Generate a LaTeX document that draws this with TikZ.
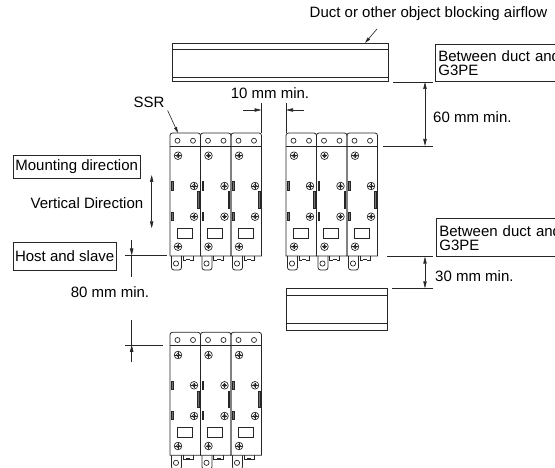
\documentclass[tikz,border=0pt]{standalone}
\usepackage{fontspec}
\setmainfont{Liberation Sans}
\usetikzlibrary{arrows.meta}
\tikzset{
  modline/.style={draw=black!85, line width=0.8pt},
  ductline/.style={draw=black!85, line width=0.9pt},
  extline/.style={draw=black!85, line width=0.6pt},
  tipA/.tip={Triangle[length=7pt,width=3.4pt]},
  dimone/.style={extline, -tipA},
  dimtwo/.style={extline, tipA-tipA},
  lbl/.style={font=\fontsize{15}{14}\selectfont, inner sep=0pt},
  lblbox/.style={draw=black!85, line width=0.7pt, font=\fontsize{15}{14}\selectfont, inner sep=3pt, align=left},
}
\newcommand{\ssrscrew}[2]{%
  \draw[modline, line width=0.7pt] (#1,#2) circle[radius=3.8];
  \draw[modline, line width=0.6pt] (#1,#2) circle[radius=1.7];
  \draw[modline, line width=0.6pt] (#1-2.7,#2) -- (#1+2.7,#2) (#1,#2-2.7) -- (#1,#2+2.7);
}
\newcommand{\ssrunit}[2]{%
\begin{scope}[shift={(#1,#2)}]
  \draw[modline] (0,123) [rounded corners=2.5] -- (0,0) -- (30.5,0) [sharp corners] -- (30.5,123) -- cycle;
  \draw[modline] (0,13) -- (30.5,13);
  \draw[modline, line width=0.7pt] (7.5,7.7) circle[radius=2.5] (23,7.7) circle[radius=2.5];
  \ssrscrew{8}{22.7}
  \ssrscrew{24}{53}
  \ssrscrew{24}{83.7}
  \ssrscrew{8}{113.7}
  \draw[modline, fill=black!55, line width=0.5pt] (1.6,48.7) rectangle (3.2,57);
  \draw[modline, fill=black!55, line width=0.5pt] (1.6,79.3) rectangle (3.2,87);
  \draw[modline, fill=black!55, line width=0.5pt] (27.3,58.7) rectangle (28.9,75.3);
  \draw[modline] (7,95.3) rectangle (22,105.3);
  \draw[modline] (1.5,123) [rounded corners=2.5] -- (1.5,137) -- (11.5,137) [sharp corners] -- (11.5,123);
  \draw[modline, line width=0.7pt] (6,130.5) circle[radius=2.6];
  \draw[modline] (13,123) -- (13,127.5) -- (16,127.5) (20,127.5) -- (23,127.5) -- (23,123);
  \draw[modline, line width=1.4pt] (16,126.5) -- (20,126.5);
\end{scope}}
\begin{document}
\begin{tikzpicture}[x=1pt, y=-1pt]
\useasboundingbox (0,0) rectangle (555,468);

% ducts
\draw[ductline] (172,43) rectangle (388,81);
\draw[ductline] (172,49) -- (388,49) (172,77) -- (388,77);
\draw[ductline] (286,288.3) rectangle (387,330);
\draw[ductline] (286,295) -- (387,295) (286,323.3) -- (387,323.3);

% SSR groups
\foreach \xx in {170,200.5,231} { \ssrunit{\xx}{133} }
\foreach \xx in {286,316.5,347} { \ssrunit{\xx}{133} }
\foreach \xx in {170,200.5,231} { \ssrunit{\xx}{332.3} }

% texts
\node[lbl] (duct) at (428.5,14) {Duct or other object blocking airflow};
\coordinate (ductfrom) at (377,29);
\coordinate (ductto) at (365,43);
\draw[extline, -{Triangle[length=6pt,width=3pt]}] (ductfrom) -- (ductto);

\node[lblbox, anchor=north west, text width=150pt, minimum height=37pt] (box1) at (435,44) {Between duct and\\G3PE};
\node[lblbox, anchor=north west, text width=150pt, minimum height=38pt] (box2) at (436,218.5) {Between duct and\\G3PE};

\node[lbl] (ssr) at (149,102) {SSR};
\coordinate (ssrto) at (178,133);
\draw[extline, -{Triangle[length=6pt,width=3pt]}] (ssr.south east) ++(3,3) coordinate (ssrfrom) -- (ssrto);

\node[lbl] (d10) at (270,93) {10 mm min.};
\node[lbl, anchor=west] (d60) at (433,116.7) {60 mm min.};
\node[lbl, anchor=west] (d30) at (435,275.7) {30 mm min.};
\node[lbl] (d80) at (110,292) {80 mm min.};
\node[lbl] (vert) at (87,203.3) {Vertical Direction};
\node[lblbox, anchor=north west, minimum width=127.3pt, minimum height=23.3pt, inner sep=2pt] (mount) at (12.7,155) {Mounting direction};
\node[lblbox, anchor=north west, minimum width=100.6pt, minimum height=28.3pt, inner sep=2pt] (host) at (12.7,241.7) {Host and slave};

% 10 mm dimension
\coordinate (e10a) at (261.5,103); \coordinate (e10ab) at (261.5,133);
\coordinate (e10b) at (286,103); \coordinate (e10bb) at (286,133);
\draw[extline] (e10a) -- (e10ab) (e10b) -- (e10bb);
\coordinate (a10l) at (243,110); \coordinate (a10lt) at (261.5,110);
\coordinate (a10r) at (304,110); \coordinate (a10rt) at (286,110);
\draw[dimone] (a10l) -- (a10lt);
\draw[dimone] (a10r) -- (a10rt);

% 60 mm dimension
\coordinate (e60a1) at (393,82); \coordinate (e60a2) at (433,82);
\coordinate (e60b1) at (383,146); \coordinate (e60b2) at (433,146);
\draw[extline] (e60a1) -- (e60a2) (e60b1) -- (e60b2);
\coordinate (a60t) at (425,82); \coordinate (a60b) at (425,146);
\draw[dimtwo] (a60t) -- (a60b);

% 30 mm dimension
\coordinate (e30a1) at (387,256.7); \coordinate (e30a2) at (433,256.7);
\coordinate (e30b1) at (392,288.3); \coordinate (e30b2) at (433,288.3);
\draw[extline] (e30a1) -- (e30a2) (e30b1) -- (e30b2);
\coordinate (a30t) at (425,256.7); \coordinate (a30b) at (425,288.3);
\draw[dimtwo] (a30t) -- (a30b);

% mounting direction arrow
\coordinate (mvt) at (151.7,175); \coordinate (mvb) at (151.7,228.3);
\draw[dimtwo] (mvt) -- (mvb);

% 80 mm dimension
\coordinate (e80a1) at (125,255.5); \coordinate (e80a2) at (167,255.5);
\draw[extline] (e80a1) -- (e80a2);
\coordinate (a80a1) at (131.7,240); \coordinate (a80a2) at (131.7,255.5); \coordinate (a80a3) at (131.7,277);
\draw[dimone] (a80a1) -- (a80a2);
\draw[extline] (a80a2) -- (a80a3);
\coordinate (e80b1) at (125,344.8); \coordinate (e80b2) at (163,344.8);
\draw[extline] (e80b1) -- (e80b2);
\coordinate (a80b1) at (131.7,362); \coordinate (a80b2) at (131.7,344.8); \coordinate (a80b3) at (131.7,320);
\draw[dimone] (a80b1) -- (a80b2);
\draw[extline] (a80b2) -- (a80b3);
\end{tikzpicture}
\end{document}
